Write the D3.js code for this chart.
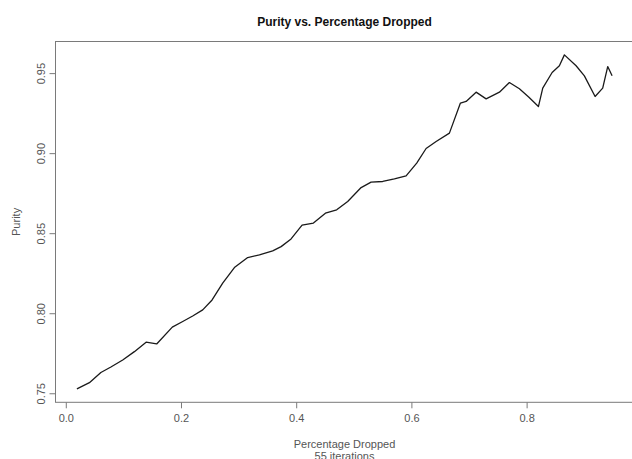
<!DOCTYPE html>
<html>
<head>
<meta charset="utf-8">
<script src="https://cdn.jsdelivr.net/npm/d3@7"></script>
<style>
  body { margin: 0; background: #fff; }
  text { font-family: "Liberation Sans", Arial, sans-serif; }
</style>
</head>
<body>
<div id="chart"></div>
<script>
// fraction dropped at each step
const dropped = [
  0.0193, 0.041, 0.0609, 0.0783, 0.0988, 0.1191, 0.1394, 0.1578, 0.1849, 0.2030,
  0.2203, 0.2377, 0.2540, 0.2724, 0.2927, 0.3158, 0.3361, 0.3592, 0.3738, 0.3911,
  0.4102, 0.4299, 0.4507, 0.4703, 0.4894, 0.5127, 0.5300, 0.5502, 0.5705, 0.5908,
  0.6092, 0.6255, 0.6429, 0.6660, 0.6851, 0.6950, 0.7123, 0.7297, 0.7528, 0.7701,
  0.7875, 0.8040, 0.8205, 0.8280, 0.8443, 0.8569, 0.8656, 0.8859, 0.9003, 0.9189,
  0.9321, 0.9408, 0.9484
];
const purity = [
  0.7527, 0.7566, 0.7630, 0.7664, 0.7708, 0.7760, 0.7819, 0.7808, 0.7913, 0.7948,
  0.7983, 0.8021, 0.8083, 0.8188, 0.8285, 0.8348, 0.8364, 0.8389, 0.8416, 0.8464,
  0.8550, 0.8563, 0.8625, 0.8646, 0.8698, 0.8785, 0.8819, 0.8823, 0.8839, 0.8858,
  0.8938, 0.9029, 0.9073, 0.9125, 0.9313, 0.9323, 0.9381, 0.9339, 0.9381, 0.9441,
  0.9402, 0.9349, 0.9291, 0.9406, 0.9504, 0.9546, 0.9614, 0.9546, 0.9483, 0.9354,
  0.9406, 0.9541, 0.9483
];
const xTicks = [0, 0.2, 0.4, 0.6, 0.8];
const yTicks = [0.75, 0.80, 0.85, 0.90, 0.95];

const width = 632, height = 459;
const box = { left: 55.5, right: 633.5, top: 41.5, bottom: 402.3 };
const axisCol = '#7a7a7a', textCol = '#555';

// R style: pad the data range by 4% on each side
function padded(vals) {
  const [lo, hi] = d3.extent(vals), p = (hi - lo) * 0.04;
  return [lo - p, hi + p];
}

const x = d3.scaleLinear().domain(padded(dropped)).range([box.left, box.right]);
const y = d3.scaleLinear().domain(padded(purity)).range([box.bottom, box.top]);

const svg = d3.select('#chart').append('svg')
  .attr('width', width)
  .attr('height', height);

svg.append('rect')
  .attr('width', width).attr('height', height)
  .attr('fill', '#fff');

svg.append('rect')
  .attr('x', box.left).attr('y', box.top)
  .attr('width', box.right - box.left)
  .attr('height', box.bottom - box.top)
  .attr('fill', 'none')
  .attr('stroke', axisCol)
  .attr('stroke-width', 1);

const xAxis = svg.append('g')
  .attr('transform', 'translate(0,' + box.bottom + ')')
  .call(d3.axisBottom(x).tickValues(xTicks).tickSize(6).tickPadding(6)
    .tickFormat(d3.format('.1f')));
xAxis.select('.domain').remove();
xAxis.selectAll('line').attr('stroke', axisCol);
xAxis.selectAll('text')
  .attr('fill', textCol)
  .attr('font-size', 11)
  .attr('font-family', '"Liberation Sans", Arial, sans-serif');

const yAxis = svg.append('g')
  .attr('transform', 'translate(' + box.left + ',0)')
  .call(d3.axisLeft(y).tickValues(yTicks).tickSize(6).tickFormat(d3.format('.2f')));
yAxis.select('.domain').remove();
yAxis.selectAll('line').attr('stroke', axisCol);
yAxis.selectAll('text')
  .attr('fill', textCol)
  .attr('font-size', 11)
  .attr('font-family', '"Liberation Sans", Arial, sans-serif')
  .attr('x', null).attr('dy', null)
  .attr('text-anchor', 'middle')
  .attr('transform', 'translate(-11,0) rotate(-90)');

const line = d3.line()
  .x((d, i) => x(dropped[i]))
  .y(d => y(d));

svg.append('path')
  .datum(purity)
  .attr('fill', 'none')
  .attr('stroke', '#1a1a1a')
  .attr('stroke-width', 1.3)
  .attr('stroke-linejoin', 'round')
  .attr('d', line);

const midX = (box.left + box.right) / 2;

svg.append('text')
  .attr('x', midX).attr('y', 25.5)
  .attr('text-anchor', 'middle')
  .attr('font-size', 12)
  .attr('font-weight', 'bold')
  .attr('fill', '#111')
  .text('Purity vs. Percentage Dropped');

svg.append('text')
  .attr('x', midX).attr('y', 448)
  .attr('text-anchor', 'middle')
  .attr('font-size', 11)
  .attr('fill', textCol)
  .text('Percentage Dropped');

svg.append('text')
  .attr('x', midX).attr('y', 459.5)
  .attr('text-anchor', 'middle')
  .attr('font-size', 11)
  .attr('fill', textCol)
  .text('55 iterations');

svg.append('text')
  .attr('transform', 'translate(20,' + ((box.top + box.bottom) / 2) + ') rotate(-90)')
  .attr('text-anchor', 'middle')
  .attr('font-size', 11)
  .attr('fill', textCol)
  .text('Purity');
</script>
</body>
</html>
